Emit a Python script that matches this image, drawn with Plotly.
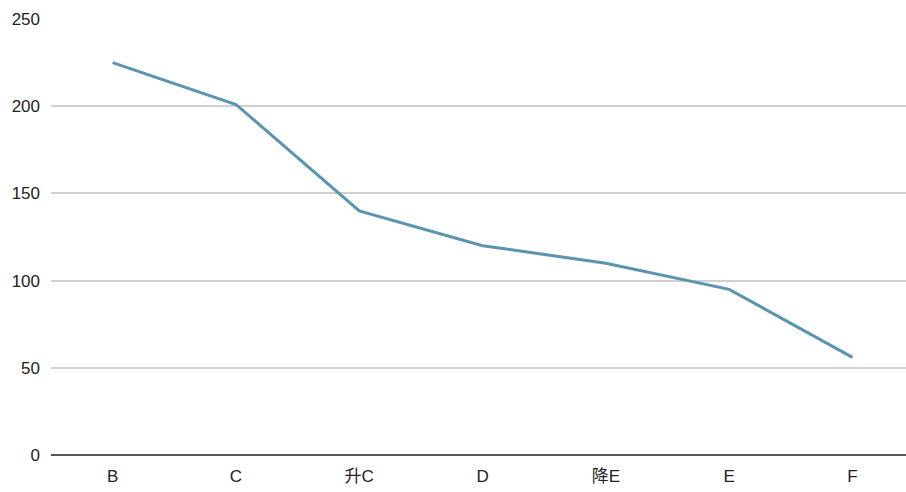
import plotly.graph_objects as go

categories = ["B", "C", "升C", "D", "降E", "E", "F"]
values = [225, 201, 140, 120, 110, 95, 56]
y_ticks = [0, 50, 100, 150, 200, 250]

font_stack = "Liberation Sans, Arial, Noto Sans CJK SC, sans-serif"

fig = go.Figure(
    go.Scatter(
        x=categories,
        y=values,
        mode="lines",
        line=dict(color="#5b94b0", width=3),
        hoverinfo="x+y",
    )
)

fig.update_layout(
    width=906,
    height=492,
    margin=dict(l=51, r=0, t=19, b=37),
    paper_bgcolor="white",
    plot_bgcolor="white",
    showlegend=False,
    font=dict(family=font_stack, size=17, color="#222222"),
)

fig.update_xaxes(
    type="category",
    range=[-0.5, 6.434],
    showgrid=False,
    showline=False,
    zeroline=False,
    ticks="",
    ticklabelstandoff=9,
    tickfont=dict(family=font_stack, size=17, color="#222222"),
)

fig.update_yaxes(
    range=[0, 250],
    tickvals=y_ticks,
    showgrid=True,
    gridcolor="#d0d0d0",
    gridwidth=1.5,
    zeroline=True,
    zerolinecolor="#555555",
    zerolinewidth=2,
    showline=False,
    ticks="",
    ticklabelstandoff=10,
    tickfont=dict(family=font_stack, size=17, color="#222222"),
)

fig.write_html("out.html")
